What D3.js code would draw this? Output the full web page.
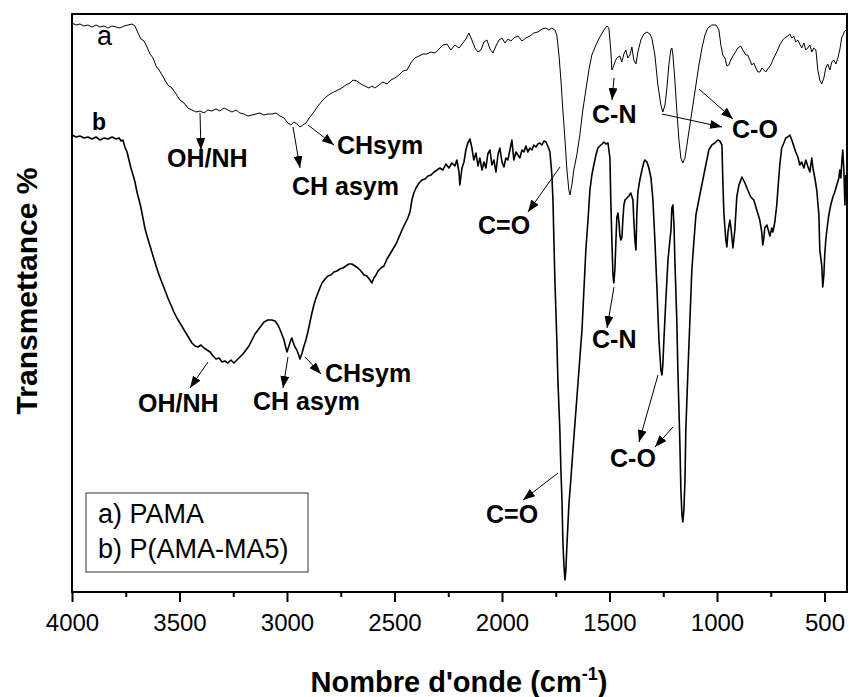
<!DOCTYPE html>
<html>
<head>
<meta charset="utf-8">
<script src="https://cdn.jsdelivr.net/npm/d3@7"></script>
<style>
  body { margin: 0; background: #fff; }
  svg { display: block; font-family: "Liberation Sans", Arial, sans-serif; }
</style>
</head>
<body>
<div class="chart"></div>
<script>
// FTIR spectra: [wavenumber cm-1, transmittance (arbitrary, offset)]
const spectrum_pama = [[4000,113.8],[3981,113.4],[3963,113.6],[3944,113.2],[3926,113.4],[3907,113.0],[3888,113.4],[3870,113.0],[3851,113.2],[3833,112.8],[3814,113.2],[3795,113.0],[3777,112.8],[3758,113.2],[3740,113.4],[3721,113.6],[3707,113.2],[3693,111.8],[3679,110.6],[3665,110.2],[3651,109.0],[3637,107.6],[3623,106.8],[3609,105.2],[3595,104.4],[3581,103.4],[3568,102.4],[3554,101.4],[3535,100.8],[3516,99.6],[3498,98.4],[3479,97.8],[3461,96.8],[3442,96.4],[3423,96.0],[3405,96.2],[3386,95.8],[3368,96.4],[3349,96.2],[3330,96.6],[3312,96.2],[3293,96.8],[3275,96.4],[3256,96.0],[3237,96.4],[3219,95.8],[3200,95.6],[3182,95.2],[3163,95.4],[3144,95.6],[3126,95.8],[3107,95.4],[3089,95.6],[3070,95.6],[3051,95.8],[3033,95.2],[3014,94.8],[2996,93.8],[2982,93.4],[2968,94.0],[2954,93.6],[2940,93.0],[2926,93.4],[2912,93.8],[2893,95.0],[2875,96.0],[2856,97.2],[2837,98.2],[2819,99.0],[2800,99.6],[2782,100.0],[2763,100.4],[2745,100.8],[2726,101.4],[2707,101.8],[2693,102.4],[2675,102.2],[2656,101.6],[2638,101.2],[2619,100.8],[2605,101.2],[2591,100.8],[2572,101.4],[2554,102.0],[2535,101.6],[2517,102.4],[2498,102.8],[2479,103.4],[2461,104.2],[2442,104.4],[2424,105.8],[2405,106.8],[2386,107.2],[2368,107.6],[2349,107.6],[2331,108.0],[2312,107.8],[2293,108.6],[2275,109.4],[2256,109.6],[2238,108.4],[2219,109.4],[2200,108.8],[2182,109.8],[2168,110.6],[2154,111.8],[2140,110.4],[2126,108.8],[2112,108.0],[2098,108.4],[2084,110.0],[2070,110.4],[2056,108.6],[2042,107.8],[2028,109.2],[2014,110.4],[2000,110.8],[1986,109.8],[1972,110.6],[1959,110.2],[1945,110.8],[1926,111.2],[1907,110.2],[1889,110.8],[1870,111.2],[1852,111.8],[1833,112.0],[1814,112.6],[1796,112.8],[1782,112.4],[1768,112.8],[1754,112.4],[1745,111.4],[1735,107.4],[1726,102.4],[1717,96.4],[1707,90.4],[1698,84.4],[1689,80.4],[1684,79.4],[1675,81.4],[1666,84.4],[1652,87.4],[1638,91.4],[1624,96.4],[1610,100.4],[1596,104.4],[1582,107.4],[1563,109.4],[1545,111.0],[1526,112.4],[1512,113.2],[1503,112.8],[1494,108.4],[1489,104.4],[1484,104.8],[1475,106.0],[1466,106.8],[1452,107.2],[1443,106.0],[1433,107.6],[1424,108.4],[1415,106.8],[1405,107.4],[1396,109.0],[1387,106.4],[1377,105.6],[1368,108.0],[1354,110.4],[1340,111.6],[1326,112.0],[1312,111.6],[1303,110.8],[1289,107.4],[1275,101.4],[1261,97.4],[1252,96.0],[1242,97.4],[1233,100.8],[1224,105.4],[1215,108.4],[1210,108.8],[1205,107.4],[1196,102.4],[1187,96.4],[1177,90.4],[1168,86.8],[1159,85.8],[1149,86.8],[1140,89.4],[1126,93.4],[1112,97.4],[1098,101.4],[1084,105.4],[1070,108.8],[1056,111.4],[1043,112.8],[1024,113.4],[1005,113.4],[991,112.4],[982,109.4],[973,107.4],[963,106.8],[954,105.2],[945,105.4],[936,106.4],[926,107.2],[917,107.8],[903,108.8],[889,109.2],[880,108.4],[866,107.4],[857,107.4],[847,106.4],[838,105.4],[829,105.8],[819,104.8],[810,104.0],[801,104.0],[791,104.8],[782,104.4],[773,104.0],[764,104.6],[750,105.4],[736,106.8],[722,108.0],[708,109.4],[694,110.4],[685,110.8],[671,111.2],[661,111.6],[652,110.8],[643,111.2],[634,110.0],[624,110.4],[615,109.6],[606,108.8],[596,109.8],[587,108.4],[578,108.8],[568,109.4],[559,108.0],[550,108.8],[540,108.4],[531,104.4],[522,102.4],[513,101.6],[503,102.8],[494,104.8],[485,105.6],[475,104.4],[466,106.0],[457,106.4],[447,105.6],[438,106.8],[429,108.4],[420,110.8],[410,111.8],[401,112.4]];

const spectrum_copo = [[4000,91.4],[3981,91.0],[3963,91.2],[3944,90.8],[3926,91.0],[3907,90.6],[3888,91.0],[3870,90.4],[3851,90.8],[3833,90.6],[3814,91.0],[3795,90.6],[3781,90.8],[3772,90.2],[3763,90.4],[3754,89.0],[3744,88.0],[3735,86.4],[3726,84.8],[3716,83.4],[3707,82.0],[3698,80.0],[3688,78.4],[3679,76.8],[3670,74.8],[3661,72.8],[3651,71.2],[3637,69.2],[3623,67.2],[3609,65.2],[3595,63.4],[3581,61.8],[3568,60.4],[3554,58.8],[3540,57.4],[3526,56.0],[3512,54.8],[3498,53.8],[3484,52.8],[3470,51.8],[3456,50.8],[3442,49.8],[3428,49.2],[3414,49.0],[3400,49.4],[3386,48.8],[3372,48.4],[3358,48.0],[3344,47.2],[3330,46.6],[3316,46.8],[3302,46.0],[3289,46.2],[3275,45.8],[3261,46.4],[3247,45.8],[3233,46.4],[3219,47.0],[3205,47.6],[3191,48.4],[3177,49.2],[3163,50.4],[3149,51.6],[3135,52.4],[3121,53.2],[3107,54.0],[3089,54.4],[3070,54.4],[3056,54.2],[3042,53.4],[3028,52.0],[3014,50.4],[3005,48.8],[3000,48.0],[2991,49.2],[2982,50.4],[2977,50.8],[2972,50.0],[2963,49.0],[2954,48.4],[2944,47.2],[2940,46.6],[2930,47.8],[2921,49.2],[2912,50.4],[2903,52.0],[2893,54.0],[2884,55.8],[2875,57.4],[2865,58.8],[2856,59.8],[2847,60.8],[2837,61.8],[2823,62.6],[2810,63.2],[2796,63.4],[2782,64.0],[2768,64.2],[2754,64.6],[2740,64.8],[2726,65.2],[2712,65.6],[2698,65.6],[2684,65.2],[2670,64.8],[2656,64.2],[2642,63.4],[2628,63.2],[2614,62.4],[2605,61.8],[2596,62.8],[2586,63.4],[2577,64.2],[2563,64.8],[2549,65.2],[2535,66.6],[2521,67.6],[2507,68.6],[2493,69.6],[2479,71.0],[2465,72.4],[2452,73.6],[2438,74.8],[2428,76.0],[2419,78.4],[2410,79.8],[2400,80.8],[2386,81.8],[2372,82.4],[2358,82.6],[2344,83.2],[2330,83.4],[2316,84.0],[2302,84.4],[2289,84.8],[2275,84.4],[2261,85.6],[2247,84.8],[2233,85.8],[2219,85.2],[2210,86.4],[2200,84.0],[2196,81.4],[2186,84.8],[2177,86.0],[2168,88.4],[2159,89.8],[2149,90.6],[2140,88.8],[2131,86.4],[2121,87.8],[2112,85.2],[2103,86.8],[2093,84.4],[2084,86.0],[2075,84.8],[2066,87.6],[2056,88.4],[2047,85.4],[2038,86.4],[2028,84.0],[2019,87.4],[2010,88.8],[2000,86.0],[1991,85.0],[1982,86.8],[1973,86.4],[1963,88.4],[1954,90.4],[1945,86.4],[1935,88.0],[1926,87.4],[1917,86.8],[1907,88.4],[1898,88.0],[1889,89.2],[1880,88.0],[1870,88.8],[1861,88.4],[1852,89.4],[1842,89.0],[1833,89.6],[1824,89.8],[1814,89.4],[1805,90.2],[1796,90.0],[1787,89.2],[1777,88.0],[1768,83.4],[1763,78.4],[1759,71.0],[1754,62.4],[1745,50.4],[1740,42.4],[1731,32.4],[1726,24.4],[1721,18.4],[1717,10.4],[1712,5.4],[1707,2.4],[1703,4.4],[1698,9.4],[1689,17.4],[1680,22.4],[1670,28.4],[1656,36.4],[1642,44.4],[1628,52.4],[1619,60.4],[1610,68.4],[1600,74.4],[1591,80.4],[1582,83.4],[1573,85.4],[1563,87.4],[1554,88.8],[1545,89.2],[1535,89.6],[1526,90.0],[1517,89.6],[1507,89.8],[1498,86.8],[1494,78.4],[1489,70.4],[1484,63.4],[1480,61.8],[1475,64.4],[1470,70.4],[1466,74.8],[1461,75.8],[1456,74.0],[1452,71.4],[1447,70.4],[1442,71.0],[1438,74.4],[1433,77.4],[1428,78.4],[1419,78.8],[1410,79.2],[1401,79.8],[1391,78.4],[1387,74.4],[1382,70.4],[1377,68.4],[1373,75.4],[1368,80.0],[1359,82.4],[1349,84.4],[1340,86.0],[1335,86.4],[1326,86.0],[1317,84.8],[1307,82.8],[1298,78.4],[1289,70.4],[1279,60.4],[1270,50.4],[1261,44.4],[1256,43.4],[1252,45.4],[1247,50.4],[1238,58.4],[1228,66.4],[1219,70.4],[1214,72.4],[1210,76.8],[1205,77.4],[1200,73.4],[1196,66.4],[1187,54.4],[1182,44.4],[1173,30.4],[1168,20.4],[1163,15.4],[1159,14.0],[1154,16.4],[1149,22.4],[1145,32.4],[1135,44.4],[1126,54.4],[1117,64.4],[1107,70.4],[1098,75.4],[1089,77.4],[1080,79.4],[1066,82.4],[1052,85.4],[1038,88.4],[1024,89.4],[1010,89.8],[996,90.4],[987,90.2],[977,89.4],[973,82.4],[968,75.8],[959,70.4],[954,69.0],[949,72.0],[940,74.4],[935,72.8],[926,68.8],[917,72.4],[908,79.0],[898,81.4],[884,83.0],[870,81.8],[857,80.4],[843,79.0],[829,78.4],[815,76.4],[801,74.4],[792,72.0],[787,69.4],[782,70.8],[778,72.8],[768,73.4],[759,72.0],[754,71.2],[745,72.8],[740,72.0],[731,74.0],[722,77.4],[717,80.4],[708,85.4],[699,88.8],[689,89.8],[680,90.8],[671,91.0],[661,91.4],[652,90.4],[643,89.2],[634,88.0],[624,87.0],[615,85.4],[606,86.0],[596,84.8],[587,86.4],[578,85.2],[568,84.0],[564,85.4],[559,86.8],[554,84.8],[545,82.8],[536,80.4],[526,75.4],[522,68.4],[513,65.4],[508,61.0],[503,63.4],[499,67.4],[494,70.4],[489,72.4],[480,75.4],[471,77.4],[461,79.0],[452,80.0],[443,81.4],[433,82.8],[429,84.4],[424,82.8],[419,86.4],[415,88.4],[410,84.4],[405,77.4],[401,83.4]];

const major_ticks = [4000, 3500, 3000, 2500, 2000, 1500, 1000, 500];
const minor_ticks = [3750, 3250, 2750, 2250, 1750, 1250, 750];
const legend_labels = ["a) PAMA", "b) P(AMA-MA5)"];

const W = 849, H = 697;
const m_left = 72, m_right = 846, m_top = 14, m_bottom = 592;

const svg = d3.select(".chart").append("svg")
  .attr("width", W)
  .attr("height", H);

const x = d3.scaleLinear().domain([4000, 400]).range([m_left, m_right]);
// 5 px per unit; spectra are offset so values above 100 are fine
const y = d3.scaleLinear().domain([0, 100]).range([m_bottom, m_bottom - 500]);

// arrow head
svg.append("defs").append("marker")
  .attr("id", "head")
  .attr("markerUnits", "userSpaceOnUse")
  .attr("markerWidth", 13).attr("markerHeight", 9)
  .attr("refX", 12).attr("refY", 4.5)
  .attr("orient", "auto")
  .append("path")
  .attr("d", "M0,0 L12,4.5 L0,9 Z")
  .attr("fill", "#000");

const line = d3.line().x(d => x(d[0])).y(d => y(d[1]));

svg.append("path")
  .datum(spectrum_pama)
  .attr("d", line)
  .attr("fill", "none")
  .attr("stroke", "#000")
  .attr("stroke-width", 1)
  .attr("stroke-linejoin", "round");

svg.append("path")
  .datum(spectrum_copo)
  .attr("d", line)
  .attr("fill", "none")
  .attr("stroke", "#000")
  .attr("stroke-width", 1.6)
  .attr("stroke-linejoin", "round");

// frame
svg.append("rect")
  .attr("x", m_left).attr("y", m_top)
  .attr("width", m_right - m_left + 1).attr("height", m_bottom - m_top)
  .attr("fill", "none")
  .attr("stroke", "#000")
  .attr("stroke-width", 2);

// x axis
const xAxis = svg.append("g")
  .attr("transform", `translate(0,${m_bottom})`)
  .call(d3.axisBottom(x).tickValues(major_ticks).tickSize(10).tickFormat(d3.format("d")));
xAxis.select(".domain").remove();
xAxis.selectAll(".tick line").attr("stroke-width", 2);
xAxis.selectAll(".tick text")
  .attr("y", 39).attr("dy", 0)
  .style("font-family", "'Liberation Sans', Arial, sans-serif")
  .style("font-size", "24px")
  .attr("fill", "#000");

const xMinor = svg.append("g")
  .attr("transform", `translate(0,${m_bottom})`)
  .call(d3.axisBottom(x).tickValues(minor_ticks).tickSize(5).tickFormat(""));
xMinor.select(".domain").remove();
xMinor.selectAll(".tick line").attr("stroke-width", 2);

// axis titles
const xt = svg.append("text")
  .attr("x", (m_left + m_right) / 2)
  .attr("y", 692)
  .attr("text-anchor", "middle")
  .style("font-size", "29px")
  .style("font-weight", "bold");
xt.append("tspan").text("Nombre d'onde (cm");
xt.append("tspan").text("-1").attr("dy", -12).style("font-size", "18px");
xt.append("tspan").text(")").attr("dy", 12);

svg.append("text")
  .attr("transform", "translate(37,291) rotate(-90)")
  .attr("text-anchor", "middle")
  .style("font-size", "30px")
  .style("font-weight", "bold")
  .text("Transmettance %");

// curve labels
svg.append("text").attr("x", 97).attr("y", 45)
  .style("font-size", "27px").text("a");
svg.append("text").attr("x", 92).attr("y", 130)
  .style("font-size", "23px").style("font-weight", "bold").text("b");

// band assignments: text, text x, baseline, arrows [x1,y1,x2,y2]
const notes = [
  ["OH/NH", 167, 167, [[200, 113, 201, 150]]],
  ["CH asym", 292, 195, [[293, 127, 300, 168]]],
  ["CHsym", 337, 154, [[308, 125, 334, 145]]],
  ["C=O", 478, 234, [[560, 167, 528, 212]]],
  ["C-N", 592, 123, [[614, 78, 612, 100]]],
  ["C-O", 732, 138, [[662, 114, 722, 127], [699, 89, 733, 119]]],
  ["OH/NH", 138, 412, [[208, 362, 190, 388]]],
  ["CH asym", 253, 410, [[288, 357, 283, 388]]],
  ["CHsym", 325, 382, [[305, 357, 321, 374]]],
  ["C=O", 486, 523, [[558, 473, 523, 500]]],
  ["C-N", 592, 348, [[614, 287, 607, 328]]],
  ["C-O", 610, 467, [[658, 375, 639, 442], [673, 427, 655, 447]]],
];

notes.forEach(n => {
  svg.append("text")
    .attr("x", n[1]).attr("y", n[2])
    .style("font-size", "25px")
    .style("font-weight", "bold")
    .text(n[0]);
  n[3].forEach(a => {
    svg.append("line")
      .attr("x1", a[0]).attr("y1", a[1])
      .attr("x2", a[2]).attr("y2", a[3])
      .attr("stroke", "#000")
      .attr("stroke-width", 1)
      .attr("marker-end", "url(#head)");
  });
});

// legend
svg.append("rect")
  .attr("x", 86).attr("y", 493)
  .attr("width", 222).attr("height", 79)
  .attr("fill", "#fff")
  .attr("stroke", "#333")
  .attr("stroke-width", 1);

svg.selectAll(".legend")
  .data(legend_labels)
  .join("text")
  .attr("class", "legend")
  .attr("x", 98)
  .attr("y", (d, i) => 523 + i * 35)
  .style("font-size", "27px")
  .text(d => d);
</script>
</body>
</html>
